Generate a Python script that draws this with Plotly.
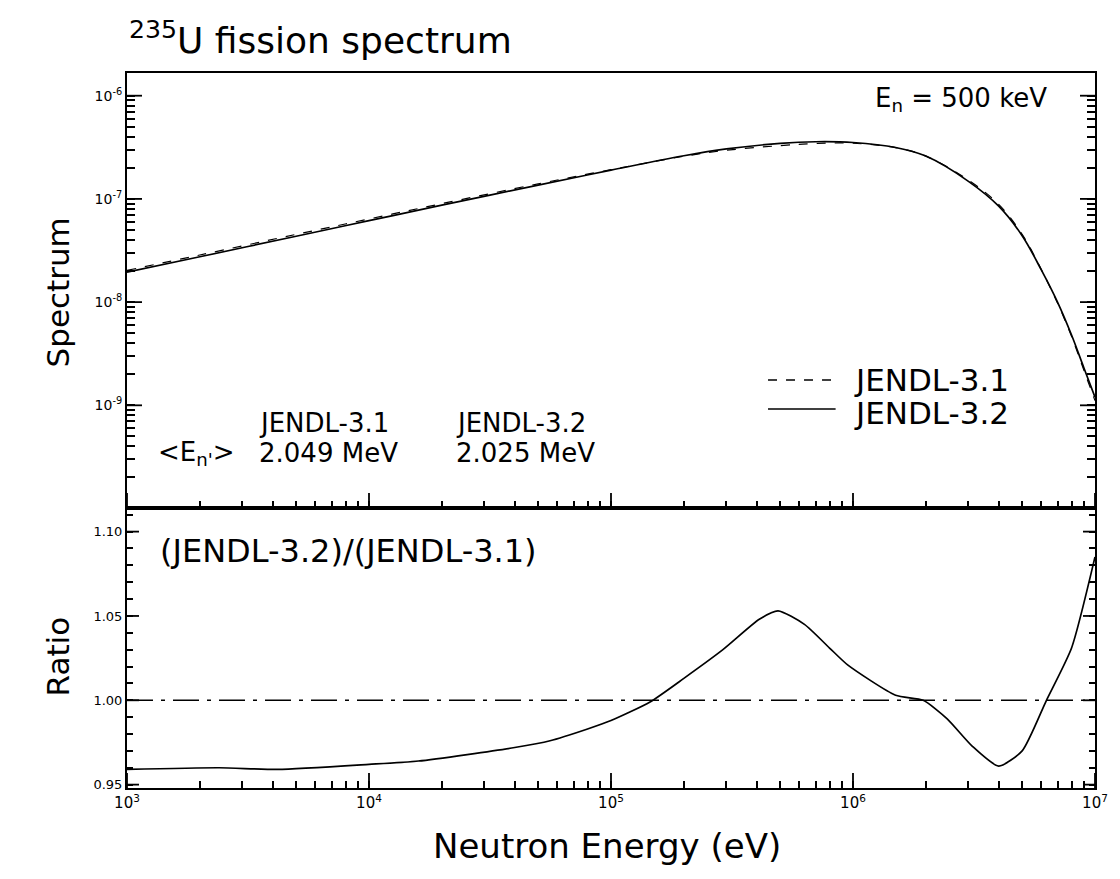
import plotly.graph_objects as go

# Neutron energy grid for the spectra (eV)
energy_ev = [1e3, 2e3, 5e3, 1e4, 2e4, 5e4, 1e5, 2e5, 3e5, 5e5, 7e5, 1e6,
             1.5e6, 2e6, 3e6, 4e6, 5e6, 6e6, 7e6, 8e6, 9e6, 1e7]
# Fission spectrum per eV
spectrum_jendl32 = [1.95e-8, 2.75e-8, 4.35e-8, 6.15e-8, 8.7e-8, 1.36e-7, 1.90e-7,
                    2.62e-7, 3.05e-7, 3.45e-7, 3.58e-7, 3.52e-7, 3.15e-7, 2.60e-7,
                    1.48e-7, 8.5e-8, 4.4e-8, 2.05e-8, 1.0e-8, 4.8e-9, 2.3e-9, 1.2e-9]
spectrum_jendl31 = [2.03e-8, 2.86e-8, 4.53e-8, 6.39e-8, 9.0e-8, 1.40e-7, 1.92e-7,
                    2.59e-7, 2.96e-7, 3.28e-7, 3.44e-7, 3.46e-7, 3.14e-7, 2.60e-7,
                    1.52e-7, 8.85e-8, 4.54e-8, 2.07e-8, 9.8e-9, 4.66e-9, 2.18e-9, 1.11e-9]

# Ratio JENDL-3.2 / JENDL-3.1
ratio_energy_ev = [1e3, 2.4e3, 4.2e3, 1e4, 1.6e4, 4e4, 5.6e4, 8e4, 1e5, 1.45e5, 2e5,
                   2.9e5, 4.1e5, 4.9e5, 6.3e5, 8e5, 9.5e5, 1.5e6, 1.95e6, 2.45e6,
                   3.1e6, 4e6, 5e6, 6.3e6, 8e6, 1e7]
ratio_values = [0.959, 0.960, 0.959, 0.962, 0.964, 0.972, 0.976, 0.983, 0.988, 0.999,
                1.013, 1.030, 1.048, 1.053, 1.045, 1.031, 1.021, 1.003, 1.000, 0.989,
                0.973, 0.961, 0.970, 1.000, 1.031, 1.085]
unity = [1.0, 1.0]
unity_energy = [1e3, 1e7]

# axis ticks
x_major = [1e3, 1e4, 1e5, 1e6, 1e7]
x_major_text = ["10<sup>3</sup>", "10<sup>4</sup>", "10<sup>5</sup>", "10<sup>6</sup>", "10<sup>7</sup>"]
spec_major = [1e-9, 1e-8, 1e-7, 1e-6]
spec_major_text = ["10<sup>-9</sup>", "10<sup>-8</sup>", "10<sup>-7</sup>", "10<sup>-6</sup>"]
ratio_major = [0.95, 1.00, 1.05, 1.10]
ratio_major_text = ["0.95", "1.00", "1.05", "1.10"]

x_minor = [k * 10 ** n for n in range(3, 7) for k in range(2, 10)]
spec_minor = [k * 10.0 ** n for n in range(-10, -6) for k in range(2, 10)]
ratio_minor = [round(0.95 + 0.01 * i, 2) for i in range(17)
               if round(0.95 + 0.01 * i, 2) not in ratio_major]

FONT = "DejaVu Sans"
BLACK = "#000000"

fig = go.Figure()
fig.add_trace(go.Scatter(x=energy_ev, y=spectrum_jendl31, mode="lines",
                         line=dict(color=BLACK, width=1.2, dash="dash", shape="spline"),
                         xaxis="x", yaxis="y", showlegend=False))
fig.add_trace(go.Scatter(x=energy_ev, y=spectrum_jendl32, mode="lines",
                         line=dict(color=BLACK, width=1.7, shape="spline"),
                         xaxis="x", yaxis="y", showlegend=False))
fig.add_trace(go.Scatter(x=unity_energy, y=unity, mode="lines",
                         line=dict(color=BLACK, width=1.5, dash="26px,8px,4px,8px"),
                         xaxis="x2", yaxis="y2", showlegend=False))
fig.add_trace(go.Scatter(x=ratio_energy_ev, y=ratio_values, mode="lines",
                         line=dict(color=BLACK, width=1.7, shape="spline", smoothing=0.6),
                         xaxis="x2", yaxis="y2", showlegend=False))


def tick_set(major, major_text, minor):
    vals = list(major) + list(minor)
    text = list(major_text) + [""] * len(minor)
    return dict(tickmode="array", tickvals=vals, ticktext=text)


split = 0.3916
axis_common = dict(showline=True, linecolor=BLACK, linewidth=2, showgrid=False,
                   zeroline=False, ticks="inside", tickcolor=BLACK, tickwidth=1.6)

fig.update_layout(
    width=1120, height=879,
    margin=dict(l=127, r=19, t=73, b=91),
    paper_bgcolor="white", plot_bgcolor="white",
    font=dict(family=FONT, color=BLACK),
    xaxis=dict(type="log", range=[3, 7], domain=[0, 1], anchor="y",
               showticklabels=False, ticklen=7, mirror=True,
               **tick_set(x_major, x_major_text, x_minor), **axis_common),
    xaxis2=dict(type="log", range=[3, 7], domain=[0, 1], anchor="y2",
                tickfont=dict(family=FONT, size=15), ticklen=7, mirror=True,
                **tick_set(x_major, x_major_text, x_minor), **axis_common),
    yaxis=dict(type="log", range=[-9.995, -5.78], domain=[split, 1], anchor="x",
               tickfont=dict(family=FONT, size=14), ticklen=8, mirror="ticks",
               **tick_set(spec_major, spec_major_text, spec_minor), **axis_common),
    yaxis2=dict(range=[0.948, 1.114], domain=[0, split], anchor="x2",
                tickfont=dict(family=FONT, size=13), ticklen=6, mirror="ticks",
                **tick_set(ratio_major, ratio_major_text, ratio_minor), **axis_common),
)

# longer marks at the labelled ticks
TICK = dict(color=BLACK, width=1.8)
for xa, ya in (("x", "y"), ("x2", "y2")):
    for v in x_major:
        fig.add_shape(type="line", xref=xa, yref=f"{ya} domain", ysizemode="pixel",
                      yanchor=0, x0=v, x1=v, y0=0, y1=15, line=TICK, layer="above")
for ya, xa, ticks, length in (("y", "x", spec_major, 15), ("y2", "x2", ratio_major, 12)):
    for v in ticks:
        fig.add_shape(type="line", yref=ya, xref=f"{xa} domain", xsizemode="pixel",
                      xanchor=0, y0=v, y1=v, x0=0, x1=length, line=TICK, layer="above")
        fig.add_shape(type="line", yref=ya, xref=f"{xa} domain", xsizemode="pixel",
                      xanchor=1, y0=v, y1=v, x0=-length, x1=0, line=TICK, layer="above")


def px_x(p):
    return (p - 127) / 974


def px_y(p):
    return (788 - p) / 715


def label(text, x, y, size, xanchor="left", angle=0):
    fig.add_annotation(text=text, xref="paper", yref="paper", x=x, y=y,
                       xanchor=xanchor, yanchor="middle", showarrow=False,
                       textangle=angle, font=dict(family=FONT, size=size, color=BLACK))


label("<sup>235</sup>U fission spectrum", px_x(127), px_y(38), 36)
label("Spectrum", px_x(58), px_y(292), 31, xanchor="center", angle=-90)
label("Ratio", px_x(58), px_y(656), 31, xanchor="center", angle=-90)
label("Neutron Energy (eV)", px_x(610), px_y(846), 34, xanchor="center")
label("E<sub>n</sub> = 500 keV", px_x(878), px_y(99), 26)
label("JENDL-3.1", px_x(258), px_y(423), 26)
label("2.049 MeV", px_x(258), px_y(453), 26)
label("JENDL-3.2", px_x(456), px_y(423), 26)
label("2.025 MeV", px_x(456), px_y(453), 26)
label("&lt;E<sub>n'</sub>&gt;", px_x(156), px_y(453), 26)
label("(JENDL-3.2)/(JENDL-3.1)", px_x(158), px_y(551), 32)

# key for the two evaluations
label("JENDL-3.1", px_x(856), px_y(380), 31)
label("JENDL-3.2", px_x(856), px_y(413), 31)
fig.add_shape(type="line", xref="paper", yref="paper",
              x0=px_x(772), x1=px_x(840), y0=px_y(380), y1=px_y(380),
              line=dict(color=BLACK, width=1.3, dash="dash"))
fig.add_shape(type="line", xref="paper", yref="paper",
              x0=px_x(772), x1=px_x(840), y0=px_y(409), y1=px_y(409),
              line=dict(color=BLACK, width=1.7))

fig.write_html("out.html")
